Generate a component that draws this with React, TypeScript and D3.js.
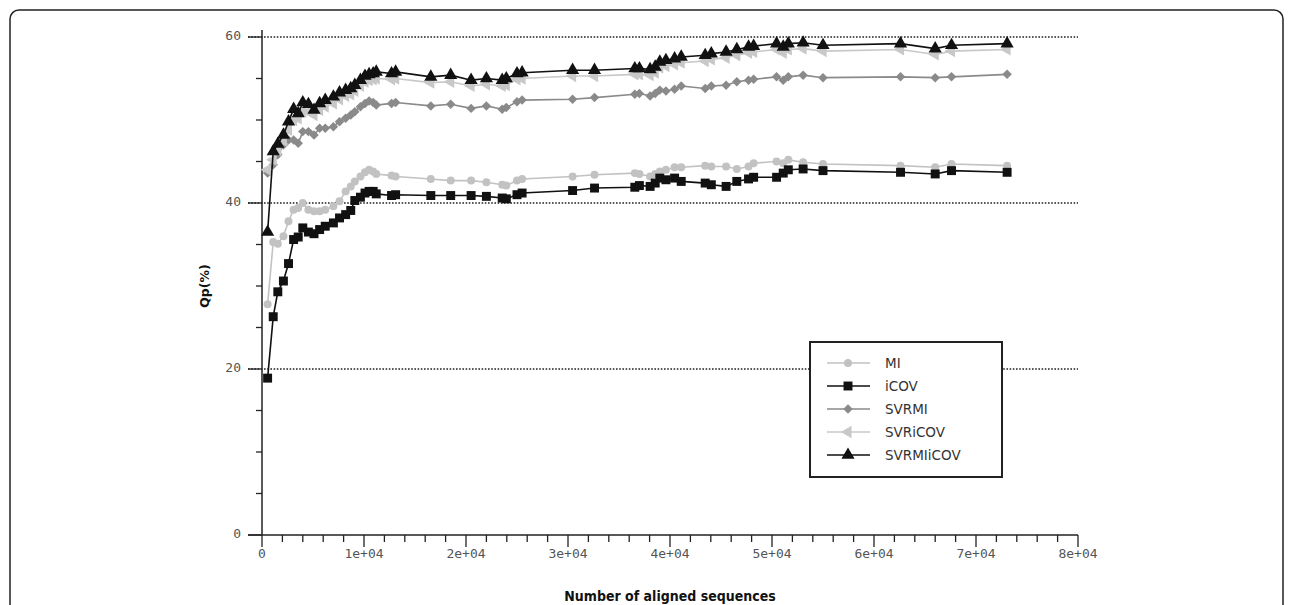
import React from 'react';
import * as d3 from 'd3';

// number of aligned sequences (shared by all series)
const seqCounts = [550, 1100, 1550, 2100, 2600, 3100, 3550, 4000, 4550, 5100, 5650, 6200, 7000, 7600, 8200, 8700, 9100, 9650, 10100, 10500, 10900, 11200, 12700, 13100, 16550, 18500, 20500, 22000, 23550, 23950, 25000, 25500, 30450, 32600, 36550, 37000, 38050, 38550, 39000, 39600, 40450, 41100, 43450, 44050, 45500, 46550, 47700, 48200, 50450, 51100, 51600, 53050, 55000, 62600, 66000, 67600, 73050];

const miValues = [27.8, 35.3, 35.1, 36.0, 37.8, 39.2, 39.4, 40.0, 39.2, 39.0, 39.0, 39.2, 39.6, 40.2, 41.4, 42.0, 42.6, 43.2, 43.7, 44.0, 43.8, 43.5, 43.3, 43.2, 42.9, 42.7, 42.7, 42.5, 42.2, 42.1, 42.7, 42.9, 43.2, 43.4, 43.6, 43.5, 43.2, 43.5, 43.8, 44.0, 44.3, 44.3, 44.5, 44.4, 44.4, 44.1, 44.4, 44.8, 45.0, 44.8, 45.2, 44.9, 44.7, 44.5, 44.3, 44.7, 44.5];

const icovValues = [18.9, 26.3, 29.3, 30.6, 32.7, 35.6, 35.9, 37.0, 36.5, 36.3, 36.8, 37.2, 37.6, 38.2, 38.6, 39.1, 40.3, 40.7, 41.2, 41.4, 41.4, 41.1, 40.9, 41.0, 40.9, 40.9, 40.9, 40.8, 40.6, 40.5, 41.0, 41.2, 41.5, 41.8, 41.9, 42.1, 42.0, 42.4, 43.0, 42.8, 43.0, 42.6, 42.4, 42.2, 42.0, 42.6, 42.9, 43.1, 43.1, 43.6, 44.0, 44.1, 43.9, 43.7, 43.5, 43.9, 43.7];

const svrmiValues = [43.6, 44.6, 45.8, 47.0, 47.6, 47.6, 47.2, 48.6, 48.6, 48.2, 49.0, 49.0, 49.2, 49.8, 50.2, 50.6, 51.0, 51.6, 52.0, 52.3, 52.1, 51.8, 52.0, 52.1, 51.7, 51.9, 51.4, 51.7, 51.3, 51.5, 52.2, 52.4, 52.5, 52.7, 53.1, 53.2, 52.9, 53.2, 53.6, 53.5, 53.7, 54.1, 53.8, 54.1, 54.2, 54.6, 54.8, 54.9, 55.2, 54.8, 55.2, 55.4, 55.1, 55.2, 55.1, 55.2, 55.5];

const svricovValues = [44.0, 45.2, 46.3, 47.5, 48.8, 50.0, 50.2, 51.0, 51.0, 50.6, 51.2, 51.6, 52.0, 52.5, 52.9, 53.1, 53.5, 54.1, 54.6, 54.8, 54.9, 55.0, 54.9, 55.0, 54.5, 54.6, 54.1, 54.3, 54.1, 54.2, 54.9, 55.0, 55.3, 55.3, 55.5, 55.5, 55.4, 55.7, 56.3, 56.5, 56.7, 56.9, 57.1, 57.3, 57.5, 57.8, 58.1, 58.2, 58.5, 58.1, 58.5, 58.6, 58.3, 58.5, 57.9, 58.3, 58.5];

const svrmiicovValues = [36.5, 46.2, 47.1, 48.2, 49.8, 51.3, 50.8, 52.1, 51.9, 51.2, 52.0, 52.4, 52.8, 53.3, 53.6, 53.8, 54.2, 54.8, 55.3, 55.5, 55.6, 55.8, 55.6, 55.8, 55.2, 55.4, 54.8, 55.0, 54.8, 55.0, 55.6, 55.7, 56.0, 56.0, 56.2, 56.2, 56.1, 56.4, 57.0, 57.2, 57.4, 57.6, 57.8, 58.0, 58.2, 58.5, 58.8, 58.9, 59.2, 58.8, 59.2, 59.3, 59.0, 59.2, 58.6, 59.0, 59.2];

const seriesNames = ['MI', 'iCOV', 'SVRMI', 'SVRiCOV', 'SVRMIiCOV'];
const xTickValues = [0, 10000, 20000, 30000, 40000, 50000, 60000, 70000, 80000];
const xTickLabels = ['0', '1e+04', '2e+04', '3e+04', '4e+04', '5e+04', '6e+04', '7e+04', '8e+04'];
const yTickValues = [0, 20, 40, 60];

const seriesStyle = [
  { color: '#c2c2c2', symbol: d3.symbolCircle, size: 50, rotate: 0 },
  { color: '#111111', symbol: d3.symbolSquare, size: 80, rotate: 0 },
  { color: '#8a8a8a', symbol: d3.symbolSquare, size: 45, rotate: 45 },
  { color: '#c8c8c8', symbol: d3.symbolTriangle, size: 65, rotate: -90 },
  { color: '#111111', symbol: d3.symbolTriangle, size: 75, rotate: 0 },
];

const App = () => {
  const x = d3.scaleLinear().domain([0, 80000]).range([262, 1078]);
  const y = d3.scaleLinear().domain([0, 60]).range([535, 37]);

  const allValues = [miValues, icovValues, svrmiValues, svricovValues, svrmiicovValues];
  const series = seriesNames.map((name, i) => ({
    name,
    ...seriesStyle[i],
    points: seqCounts.map((c, j) => [c, allValues[i][j]] as [number, number]),
  }));

  const line = d3.line<[number, number]>().x((d) => x(d[0])).y((d) => y(d[1]));

  const xMinor = d3.range(0, 80001, 2000).filter((v) => v % 10000 !== 0);
  const yMinor = d3.range(0, 61, 5).filter((v) => v % 20 !== 0);

  const tickFont = '"DejaVu Sans Mono", monospace';

  return (
    <svg width={1292} height={605} style={{ position: 'absolute', left: 0, top: 0, background: '#fff' }}>
      {/* outer frame */}
      <rect x={10} y={10} width={1273} height={640} rx={9} fill="none" stroke="#222" strokeWidth={1.5} />

      {/* dotted grid */}
      {yTickValues.filter((v) => v > 0).map((v) => (
        <line key={v} x1={248} x2={x(80000)} y1={y(v)} y2={y(v)} stroke="#222" strokeWidth={1.6} strokeDasharray="1.6,1.6" />
      ))}

      {/* axes */}
      <line x1={x(0)} x2={x(0)} y1={30} y2={y(0)} stroke="#222" strokeWidth={1.5} />
      <line x1={248} x2={x(80000)} y1={y(0)} y2={y(0)} stroke="#222" strokeWidth={1.5} />
      {yTickValues.map((v) => (
        <g key={v}>
          <line x1={248} x2={x(0)} y1={y(v)} y2={y(v)} stroke="#222" strokeWidth={1.3} />
          <text x={241} y={y(v) + 3} textAnchor="end" fontFamily={tickFont} fontSize={13} fill="#555">{v}</text>
        </g>
      ))}
      {yMinor.map((v) => (
        <line key={v} x1={256} x2={x(0)} y1={y(v)} y2={y(v)} stroke="#222" strokeWidth={1.3} />
      ))}
      {xTickValues.map((v, i) => (
        <g key={v}>
          <line x1={x(v)} x2={x(v)} y1={y(0)} y2={y(0) + 12} stroke="#222" strokeWidth={1.3} />
          <text x={x(v)} y={y(0) + 23} textAnchor="middle" fontFamily={tickFont} fontSize={13} fill="#555">{xTickLabels[i]}</text>
        </g>
      ))}
      {xMinor.map((v) => (
        <line key={v} x1={x(v)} x2={x(v)} y1={y(0)} y2={y(0) + 7} stroke="#222" strokeWidth={1.3} />
      ))}

      {/* axis titles */}
      <text x={670} y={601} textAnchor="middle" fontFamily='"DejaVu Sans Condensed", "DejaVu Sans", sans-serif' fontWeight="bold" fontSize={14} fill="#111">Number of aligned sequences</text>
      <text transform="translate(209,286) rotate(-90)" textAnchor="middle" fontFamily='"DejaVu Sans", sans-serif' fontWeight="bold" fontSize={12.5} fill="#111">Qp(%)</text>

      {/* series */}
      {series.map((s) => (
        <g key={s.name}>
          <path d={line(s.points) || ''} fill="none" stroke={s.color} strokeWidth={1.6} />
          {s.points.map((p, j) => (
            <path key={j} d={d3.symbol().type(s.symbol).size(s.size)() || ''} transform={`translate(${x(p[0])},${y(p[1])}) rotate(${s.rotate})`} fill={s.color} />
          ))}
        </g>
      ))}

      {/* legend */}
      <rect x={810} y={342} width={192} height={135} fill="#fff" stroke="#222" strokeWidth={2} />
      {series.map((s, i) => {
        const ly = 363 + i * 23;
        return (
          <g key={s.name}>
            <line x1={827} x2={870} y1={ly} y2={ly} stroke={s.color} strokeWidth={1.6} />
            <path d={d3.symbol().type(s.symbol).size(s.size)() || ''} transform={`translate(848,${ly}) rotate(${s.rotate})`} fill={s.color} />
            <text x={885} y={ly + 5} fontFamily='"DejaVu Sans", sans-serif' fontSize={13.5} fill="#333">{s.name}</text>
          </g>
        );
      })}
    </svg>
  );
};

export default App;
